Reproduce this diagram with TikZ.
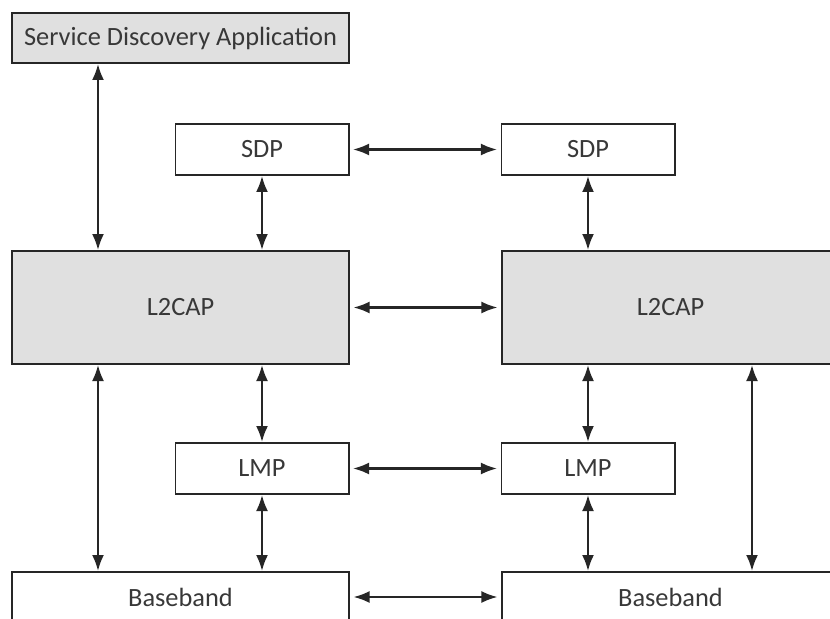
\documentclass[tikz,border=0pt]{standalone}
\usepackage{fontspec}
\setmainfont{Carlito}
\usetikzlibrary{arrows.meta,positioning}

\begin{document}
\begin{tikzpicture}[x=0.03cm, y=-0.03cm,
    layer/.style={draw=black!85, line width=1.7pt, inner sep=0pt, text=black!78,
      font=\fontsize{22.5}{27}\selectfont},
    widebox/.style={layer, minimum width=10.11cm, minimum height=1.5cm},
    smallbox/.style={layer, minimum width=5.19cm, minimum height=1.53cm},
    link/.style={draw=black!85, line width=1.9pt, {Latex[length=0.48cm,width=0.36cm]}-{Latex[length=0.48cm,width=0.36cm]}},
    gap/.style={shorten <=3pt, shorten >=3pt}]
    \useasboundingbox (0,0) rectangle (830,619);
    \clip (0,0) rectangle (830,619);

    % upper layers
    \node[widebox, fill=black!12] (sda) at (180.5,38) {Service Discovery Application};
    \node[smallbox] (sdpL) at (262,149.5) {SDP};
    \node[smallbox] (sdpR) at (588,149.5) {SDP};
    \node[widebox, fill=black!12, minimum height=3.39cm] (l2L) at (180.5,307.5) {L2CAP};
    \node[widebox, fill=black!12, minimum height=3.39cm] (l2R) at (670.5,307.5) {L2CAP};

    % lower layers
    \node[smallbox] (lmpL) at (262,468.5) {LMP};
    \node[smallbox] (lmpR) at (588,468.5) {LMP};
    \node[widebox] (bbL) at (180.5,597) {Baseband};
    \node[widebox] (bbR) at (670.5,597) {Baseband};

    \coordinate (colA) at (98,0);
    \coordinate (colB) at (752,0);

    % vertical links
    \draw[link] (sda.south -| colA) -- (l2L.north -| colA);
    \draw[link] (sdpL) -- (l2L.north -| sdpL);
    \draw[link] (sdpR) -- (l2R.north -| sdpR);
    \draw[link] (l2L.south -| lmpL) -- (lmpL);
    \draw[link] (l2R.south -| lmpR) -- (lmpR);
    \draw[link] (lmpL) -- (bbL.north -| lmpL);
    \draw[link] (lmpR) -- (bbR.north -| lmpR);
    \draw[link] (l2L.south -| colA) -- (bbL.north -| colA);
    \draw[link] (l2R.south -| colB) -- (bbR.north -| colB);

    % peer links
    \draw[link, gap] (sdpL) -- (sdpR);
    \draw[link, gap] (l2L) -- (l2R);
    \draw[link, gap] (lmpL) -- (lmpR);
    \draw[link, gap] (bbL) -- (bbR);
\end{tikzpicture}
\end{document}
